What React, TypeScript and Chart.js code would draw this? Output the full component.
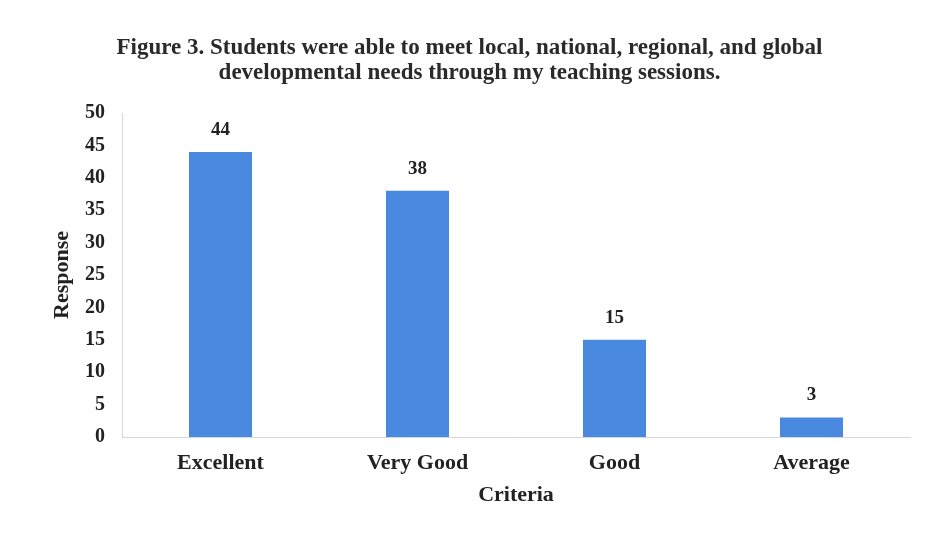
import React, { useEffect, useRef } from "react";
import { Chart, registerables } from "chart.js";

Chart.register(...registerables);

const titleLines = [
  "Figure 3. Students were able to meet local, national, regional, and global",
  "developmental needs through my teaching sessions.",
];
const categories = ["Excellent", "Very Good", "Good", "Average"];
const responses = [44, 38, 15, 3];
const yAxisTitle = "Response";
const xAxisTitle = "Criteria";

const SERIF = "'Liberation Serif', 'Times New Roman', serif";

const valueLabels = {
  id: "valueLabels",
  afterDatasetsDraw(chart: any) {
    const { ctx } = chart;
    const meta = chart.getDatasetMeta(0);
    ctx.save();
    ctx.font = `bold 19px ${SERIF}`;
    ctx.fillStyle = "#222222";
    ctx.textAlign = "center";
    ctx.textBaseline = "middle";
    meta.data.forEach((bar: any, i: number) => {
      const v = chart.data.datasets[0].data[i];
      ctx.fillText(String(v), bar.x, bar.y - 22);
    });
    ctx.restore();
  },
};

const figureTitle = {
  id: "figureTitle",
  afterDraw(chart: any) {
    const { ctx } = chart;
    ctx.save();
    ctx.font = `bold 23px ${SERIF}`;
    ctx.fillStyle = "#2a2a2a";
    ctx.textAlign = "center";
    ctx.textBaseline = "middle";
    const cx = chart.width / 2 + 6;
    titleLines.forEach((line, i) => {
      ctx.fillText(line, cx, 48 + i * 25);
    });
    ctx.restore();
  },
};

export default function App() {
  const ref = useRef<HTMLCanvasElement | null>(null);
  useEffect(() => {
    document.body.style.margin = "0";
    const chart = new Chart(ref.current as HTMLCanvasElement, {
      type: "bar",
      data: {
        labels: categories,
        datasets: [
          {
            data: responses,
            backgroundColor: "#4a89e0",
            borderWidth: 0,
            barPercentage: 0.64,
            categoryPercentage: 0.5,
          },
        ],
      },
      plugins: [valueLabels, figureTitle],
      options: {
        responsive: false,
        animation: false,
        layout: { padding: { left: 0, right: 17, top: 113, bottom: 0 } },
        plugins: {
          legend: { display: false },
          tooltip: { enabled: false },
          title: { display: false },
        },
        scales: {
          x: {
            afterFit: (s: any) => {
              s.height = 103;
            },
            grid: { display: false, drawTicks: false },
            border: { display: true, color: "#d6d6d6", width: 1 },
            ticks: {
              color: "#222222",
              font: { family: SERIF, size: 22, weight: "bold" },
              padding: 13,
            },
            title: {
              display: true,
              text: xAxisTitle,
              color: "#222222",
              font: { family: SERIF, size: 22, weight: "bold", lineHeight: 1.2 },
              padding: { top: 0, bottom: 31 },
            },
          },
          y: {
            min: 0,
            max: 50,
            afterFit: (s: any) => {
              s.width = 122;
            },
            grid: { display: false, drawTicks: false },
            border: { display: true, color: "#d6d6d6", width: 1 },
            ticks: {
              stepSize: 5,
              color: "#222222",
              font: { family: SERIF, size: 20, weight: "bold" },
              padding: 17,
            },
            title: {
              display: true,
              text: yAxisTitle,
              color: "#222222",
              font: { family: SERIF, size: 22, weight: "bold", lineHeight: 1.2 },
              padding: { top: 49, bottom: 0 },
            },
          },
        },
      },
    });
    return () => chart.destroy();
  }, []);
  return (
    <div style={{ width: 927, height: 540, background: "#ffffff" }}>
      <canvas ref={ref} width={927} height={540} style={{ display: "block" }} />
    </div>
  );
}
